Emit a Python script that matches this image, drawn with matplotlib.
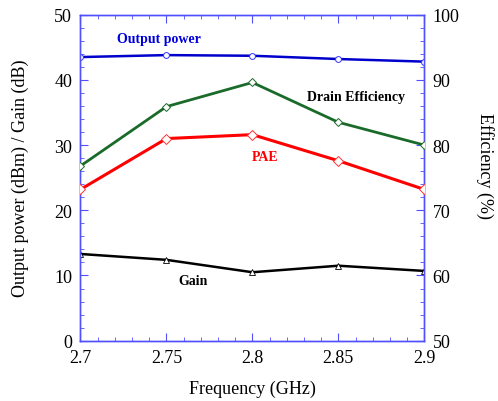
import matplotlib.pyplot as plt
from matplotlib.ticker import MultipleLocator

freq = [2.7, 2.75, 2.8, 2.85, 2.9]
pout = [43.5, 43.8, 43.7, 43.2, 42.8]
gain = [13.3, 12.4, 10.5, 11.5, 10.7]
drain_eff = [76.8, 85.9, 89.6, 83.5, 80.0]
pae = [73.2, 81.0, 81.6, 77.6, 73.2]

plt.rcParams['font.family'] = 'Liberation Serif'
spine_col = '#5050ff'

fig = plt.figure(figsize=(4.98, 4.02), dpi=100)
ax = fig.add_axes([0.1616, 0.1500, 0.6904, 0.8110])
ax2 = ax.twinx()

ax.plot(freq, pout, color='#0000cc', lw=1.8, marker='o', ms=4.2, mfc='white', mec='#3333ff', mew=0.7, zorder=3)
ax.plot(freq, gain, color='black', lw=1.8, marker='^', ms=5, mfc='white', mec='black', mew=0.6, zorder=3)
ax2.plot(freq, drain_eff, color='#1a6b2a', lw=2.0, marker='D', ms=3.6, mfc='white', mec='#1a6b2a', mew=0.7, zorder=3)
ax2.plot(freq, pae, color='#ff0000', lw=2.2, marker='D', ms=4.8, mfc='white', mec='#ff3333', mew=0.7, zorder=3)

ax.set_xlim(2.7, 2.9)
ax.set_ylim(0, 50)
ax2.set_ylim(50, 100)

ax.xaxis.set_minor_locator(MultipleLocator(0.01))
ax.yaxis.set_major_locator(MultipleLocator(10))
ax.yaxis.set_minor_locator(MultipleLocator(2))
ax2.yaxis.set_major_locator(MultipleLocator(10))
ax2.yaxis.set_minor_locator(MultipleLocator(2))
ax.set_xticks(freq)
ax.set_xticklabels(['2.7', '2.75', '2.8', '2.85', '2.9'])

ax.tick_params(which='both', direction='in', top=True, right=False, color=spine_col,
               labelsize=13, labelcolor='black', pad=6)
ax.tick_params(which='major', length=6)
ax.tick_params(which='minor', length=3)
ax2.tick_params(which='both', direction='in', color=spine_col, labelsize=13, labelcolor='black', pad=6)
ax2.tick_params(which='major', length=6)
ax2.tick_params(which='minor', length=3)

for a in (ax, ax2):
    for s in a.spines.values():
        s.set_color(spine_col)
        s.set_linewidth(1.0)

ax.set_xlabel('Frequency (GHz)', fontsize=13, labelpad=10)
ax.set_ylabel('Output power (dBm) / Gain (dB)', fontsize=13, labelpad=18)
ax2.set_ylabel('Efficiency (%)', fontsize=13, rotation=270, va='center', ha='center')
ax2.yaxis.set_label_coords(1.177, 0.539)

ax.text(2.7454, 46.3, 'Output power', color='#0000dd', fontsize=10, fontweight='bold', ha='center', va='center')
ax.text(2.860, 37.5, 'Drain Efficiency', color='black', fontsize=10, fontweight='bold', ha='center', va='center')
ax.text(2.8076, 28.3, 'PAE', color='#ff0000', fontsize=10, fontweight='bold', ha='center', va='center')
ax.text(2.7657, 9.2, 'Gain', color='black', fontsize=10, fontweight='bold', ha='center', va='center')

fig.savefig('out.png', dpi=100)
